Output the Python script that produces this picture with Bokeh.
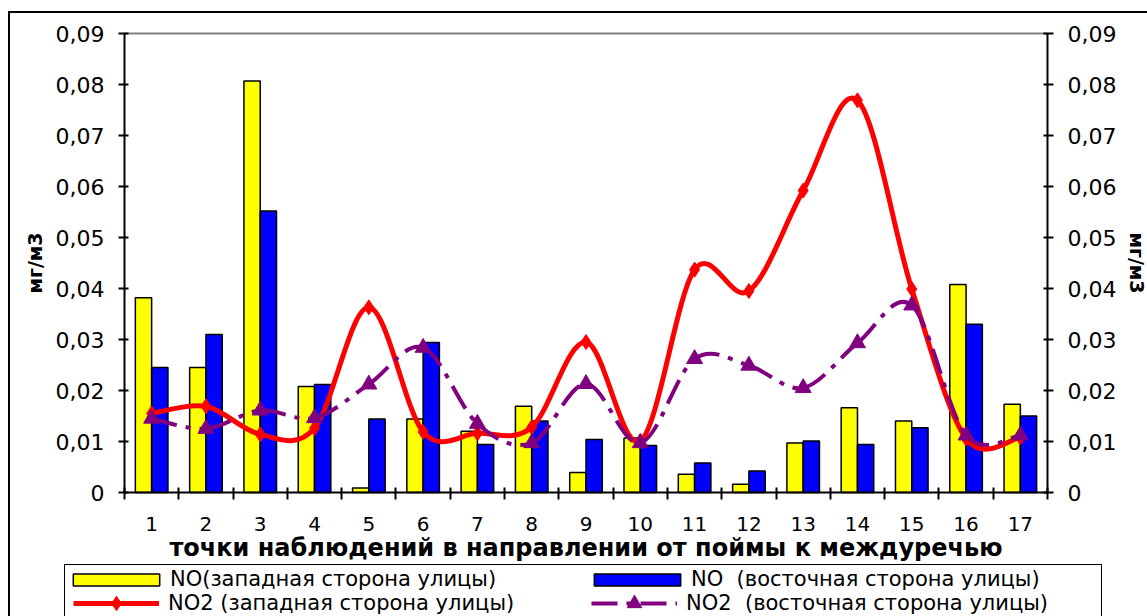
from bokeh.plotting import figure
from bokeh.models import (Range1d, LinearAxis, FixedTicker, CustomJSTickFormatter,
                          ColumnDataSource, Legend, LegendItem, InlineStyleSheet)
from bokeh.transform import dodge
from bokeh.embed import file_html
from bokeh.resources import INLINE

# observation points, from the floodplain towards the interfluve
points = list(range(1, 18))
tick_labels = [str(v) for v in points]

# NO, mg/m3
no_west = [0.0382, 0.0245, 0.0807, 0.0208, 0.0009, 0.0144, 0.0120, 0.0169, 0.0039,
           0.0107, 0.0036, 0.0016, 0.0097, 0.0166, 0.0140, 0.0408, 0.0173]
no_east = [0.0245, 0.0310, 0.0552, 0.0212, 0.0144, 0.0294, 0.0094, 0.0140, 0.0104,
           0.0092, 0.0058, 0.0042, 0.0101, 0.0094, 0.0127, 0.0330, 0.0150]
# NO2, mg/m3
no2_west = [0.0155, 0.0169, 0.0114, 0.0126, 0.0363, 0.0119, 0.0116, 0.0128, 0.0295,
            0.0101, 0.0437, 0.0395, 0.0592, 0.0769, 0.0399, 0.0106, 0.0108]
no2_east = [0.0145, 0.0125, 0.0161, 0.0146, 0.0212, 0.0284, 0.0135, 0.0097, 0.0213,
            0.0097, 0.0262, 0.0249, 0.0205, 0.0293, 0.0367, 0.0112, 0.0112]

FONT = "DejaVu Sans"
W, H = 1147, 616
# plot area edges in canvas pixels
PL, PR, PT, PB = 124, 1047, 33, 492
YMAX = 0.09
X0, X1 = points[0] - 0.5, points[-1] + 0.5


def smooth_segments(xs, ys):
    """Cubic Bezier pieces (Catmull-Rom tangents) passing through every point."""
    n = len(xs)
    out = {k: [] for k in ("x0", "y0", "x1", "y1", "cx0", "cy0", "cx1", "cy1")}
    for i in range(n - 1):
        a, b = max(i - 1, 0), min(i + 2, n - 1)
        out["x0"].append(xs[i]); out["y0"].append(ys[i])
        out["x1"].append(xs[i + 1]); out["y1"].append(ys[i + 1])
        out["cx0"].append(xs[i] + (xs[i + 1] - xs[a]) / 6)
        out["cy0"].append(ys[i] + (ys[i + 1] - ys[a]) / 6)
        out["cx1"].append(xs[i + 1] - (xs[b] - xs[i]) / 6)
        out["cy1"].append(ys[i + 1] - (ys[b] - ys[i]) / 6)
    return out


# ranges stretched so the whole canvas is the frame; axes sit at fixed locations
xs_per_px = (X1 - X0) / (PR - PL)
ys_per_px = YMAX / (PB - PT)
x_range = Range1d(X0 - PL * xs_per_px, X1 + (W - PR) * xs_per_px)
y_range = Range1d(0 - (H - PB) * ys_per_px, YMAX + PT * ys_per_px)

src = ColumnDataSource(dict(x=points, no_w=no_west, no_e=no_east,
                            no2_w=no2_west, no2_e=no2_east))

p = figure(width=W, height=H, output_backend="svg", toolbar_location=None,
           x_range=x_range, y_range=y_range,
           min_border_left=0, min_border_right=0, min_border_top=0, min_border_bottom=0)
p.outline_line_color = None
p.background_fill_color = "white"
p.border_fill_color = "white"
p.xgrid.visible = False
p.ygrid.visible = False

# chart frame and legend frame
p.stylesheets = [InlineStyleSheet(css="""
:host { position: relative; }
:host::after { content: ""; position: absolute; left: 8px; top: 11px; right: 0; bottom: 0;
  border-left: 2px solid black; border-top: 2px solid black; pointer-events: none; z-index: 5; }
:host::before { content: ""; position: absolute; left: 64px; top: 564px; right: 45px; bottom: 0;
  border-left: 1.5px solid black; border-top: 1.5px solid black; border-right: 1.5px solid black;
  pointer-events: none; z-index: 5; }
""")]

# top edge of the plot area
p.segment(x0=[X0], x1=[X1], y0=[YMAX], y1=[YMAX], line_color="#808080", line_width=2)

# bars
r_no_w = p.vbar(x=dodge("x", -0.15, range=p.x_range), top="no_w", width=0.3, source=src,
                fill_color="#ffff00", line_color="black", line_width=1.5)
r_no_e = p.vbar(x=dodge("x", 0.15, range=p.x_range), top="no_e", width=0.3, source=src,
                fill_color="#0000ff", line_color="black", line_width=1.5)

# smoothed NO2 curves
r_w_line = p.bezier(source=ColumnDataSource(smooth_segments(points, no2_west)),
                    x0="x0", y0="y0", x1="x1", y1="y1", cx0="cx0", cy0="cy0",
                    cx1="cx1", cy1="cy1", line_color="#ff0000", line_width=5)
r_w_pts = p.scatter("x", "no2_w", source=src, marker="diamond", size=15,
                    fill_color="#ff0000", line_color="#ff0000")
r_e_line = p.bezier(source=ColumnDataSource(smooth_segments(points, no2_east)),
                    x0="x0", y0="y0", x1="x1", y1="y1", cx0="cx0", cy0="cy0",
                    cx1="cx1", cy1="cy1", line_color="#800080", line_width=4,
                    line_dash="26 9 5 9")
r_e_pts = p.scatter("x", "no2_e", source=src, marker="triangle", size=16,
                    fill_color="#800080", line_color="#800080")

# axes
fmt = CustomJSTickFormatter(code='return tick == 0 ? "0" : tick.toFixed(2).replace(".", ",");')
yticks = FixedTicker(ticks=[i / 100 for i in range(10)])


def style_y(ax, loc):
    ax.fixed_location = loc
    ax.bounds = (0, YMAX)
    ax.ticker = yticks
    ax.formatter = fmt
    ax.axis_line_width = 2
    ax.axis_line_color = "black"
    ax.major_tick_line_width = 2
    ax.major_tick_line_color = "black"
    ax.major_tick_in = 4
    ax.major_tick_out = 6
    ax.minor_tick_line_color = None
    ax.major_label_text_font = FONT
    ax.major_label_text_font_size = "22px"
    ax.major_label_text_color = "black"
    ax.major_label_standoff = 14
    ax.axis_label = "мг/м3"
    ax.axis_label_text_font = FONT
    ax.axis_label_text_font_style = "bold"
    ax.axis_label_text_font_size = "19px"
    ax.axis_label_text_color = "black"
    ax.axis_label_standoff = 7


style_y(p.yaxis[0], X0)
right_axis = LinearAxis()
style_y(right_axis, X1)
p.add_layout(right_axis, "right")

xa = p.xaxis[0]
xa.fixed_location = 0
xa.bounds = (X0, X1)
xa.ticker = FixedTicker(ticks=points, minor_ticks=[v - 0.5 for v in points] + [X1])
xa.major_label_overrides = {v: s for v, s in zip(points, tick_labels)}
xa.major_tick_line_color = None
xa.major_tick_in = 0
xa.major_tick_out = 7
xa.minor_tick_line_color = "black"
xa.minor_tick_line_width = 2
xa.minor_tick_in = 5
xa.minor_tick_out = 7
xa.axis_line_width = 2
xa.axis_line_color = "black"
xa.major_label_text_font = FONT
xa.major_label_text_font_size = "20px"
xa.major_label_text_color = "black"
xa.major_label_standoff = 17
xa.axis_label = "точки наблюдений в направлении от поймы к междуречью"
xa.axis_label_text_font = FONT
xa.axis_label_text_font_style = "bold"
xa.axis_label_text_font_size = "24px"
xa.axis_label_text_color = "black"
xa.axis_label_standoff = 0


def make_legend(items, loc, gw, gh, standoff, lw):
    lg = Legend(items=[LegendItem(label=t, renderers=r) for t, r in items],
                location=loc, orientation="horizontal",
                glyph_width=gw, glyph_height=gh, padding=0, margin=0, spacing=0,
                label_standoff=standoff, label_width=lw, label_height=10,
                border_line_color=None, background_fill_alpha=0,
                label_text_font=FONT, label_text_font_size="21px",
                label_text_color="black")
    p.add_layout(lg)


make_legend([("NO(западная сторона улицы)", [r_no_w]),
             ("NO  (восточная сторона улицы)", [r_no_e])], (62, 25), 108, 15, 0, 413)
make_legend([("NO2 (западная сторона улицы)", [r_w_line, r_w_pts]),
             ("NO2  (восточная сторона улицы)", [r_e_line, r_e_pts])], (73, -5), 86, 36, 9, 423)

open("out.html", "w").write(file_html(p, INLINE))
